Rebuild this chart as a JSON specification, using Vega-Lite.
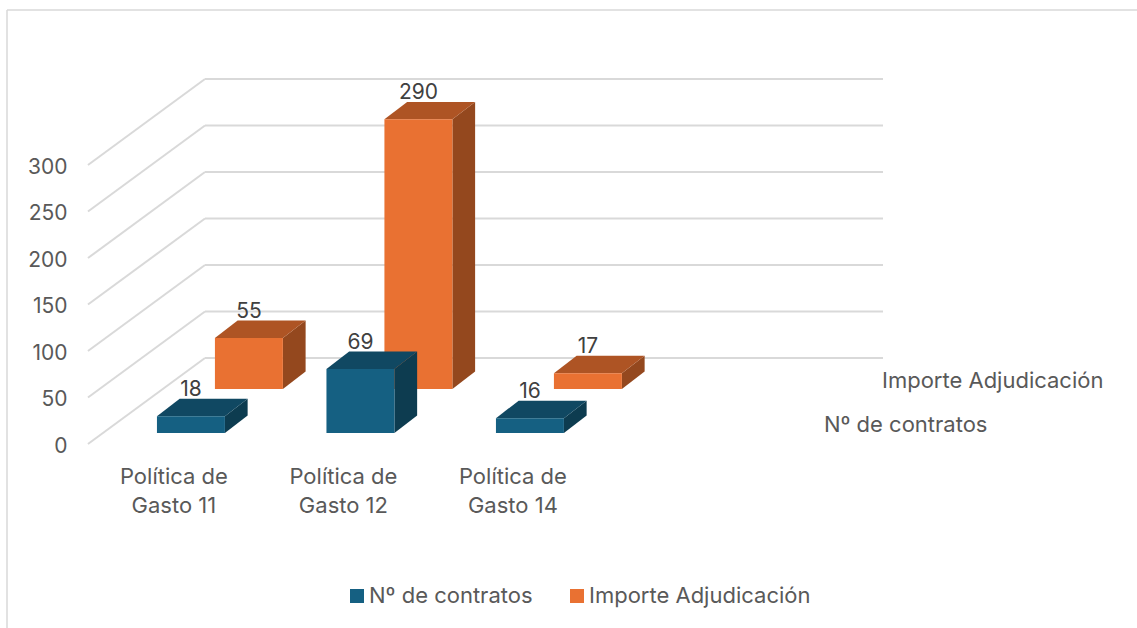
{"$schema":"https://vega.github.io/schema/vega-lite/v6.json","width":1130,"height":618,"padding":{"left":7,"top":10,"right":0,"bottom":0},"autosize":"none","background":"white","view":{"stroke":null,"fill":"white"},"config":{"font":"Inter"},
"data":{"values":[
{"politica":"Política de Gasto 11","serie":"Nº de contratos","valor":18},
{"politica":"Política de Gasto 12","serie":"Nº de contratos","valor":69},
{"politica":"Política de Gasto 14","serie":"Nº de contratos","valor":16},
{"politica":"Política de Gasto 11","serie":"Importe Adjudicación","valor":55},
{"politica":"Política de Gasto 12","serie":"Importe Adjudicación","valor":290},
{"politica":"Política de Gasto 14","serie":"Importe Adjudicación","valor":17}]},
"transform":[
{"calculate":"indexof(['Política de Gasto 11','Política de Gasto 12','Política de Gasto 14'],datum.politica)","as":"i"},
{"calculate":"datum.serie==='Importe Adjudicación'?1:0","as":"s"},
{"calculate":"0.926+datum.i+datum.s*0.342","as":"x0"},
{"calculate":"datum.x0+0.401","as":"x1"},
{"calculate":"datum.s?59.1:11.8","as":"base"},
{"calculate":"datum.base+datum.valor","as":"tope"},
{"calculate":"[0,1]","as":"ts"},
{"flatten":["ts"],"as":["t"]},
{"calculate":"datum.x1+datum.t*0.134","as":"sx"},
{"calculate":"datum.base+datum.t*18.8","as":"sy"},
{"calculate":"datum.tope+datum.t*18.8","as":"sy2"},
{"calculate":"datum.x0+datum.t*0.134","as":"tx"},
{"calculate":"datum.x0+0.2005","as":"cx"},
{"calculate":"datum.tope+28","as":"ly"},
{"calculate":"datum.x0+0.1","as":"catx"},
{"calculate":"replace(datum.politica,' Gasto','\\nGasto')","as":"lineas"},
{"calculate":"-35.3","as":"caty"},
{"calculate":"datum.s?5.2035:4.861","as":"depx"},
{"calculate":"datum.s?67.7:20.4","as":"depy"}
],
"layer":[
{"data":{"values":[{"v":0},{"v":50},{"v":100},{"v":150},{"v":200},{"v":250},{"v":300}]},
"transform":[{"calculate":"datum.v+92.5","as":"v2"}],
"mark":{"type":"rule","color":"#d9d9d9","strokeWidth":2},
"encoding":{"x":{"datum":0.519,"type":"quantitative","scale":{"domain":[0.0413,6.708]},"axis":null},"x2":{"datum":1.2094},
"y":{"field":"v","type":"quantitative","scale":{"domain":[-197.8,466.7]},"axis":{"values":[0,50,100,150,200,250,300],"domain":false,"ticks":false,"grid":false,"title":null,"labelPadding":-60,"labelOffset":2,"labelFontSize":21,"labelColor":"#595959","labelFont":"Inter"}},"y2":{"field":"v2"}}},
{"data":{"values":[{"v":0},{"v":50},{"v":100},{"v":150},{"v":200},{"v":250},{"v":300}]},
"transform":[{"calculate":"datum.v+92.5","as":"v2"}],
"mark":{"type":"rule","color":"#d9d9d9","strokeWidth":2},
"encoding":{"x":{"datum":1.2094,"type":"quantitative","scale":{"domain":[0.0413,6.708]},"axis":null},"x2":{"datum":5.2094},
"y":{"field":"v2","type":"quantitative","scale":{"domain":[-197.8,466.7]},"title":null}}},
{"data":{"values":[{"borde":"izquierdo"}]},"mark":{"type":"rule","color":"#d9d9d9","strokeWidth":1.5},
"encoding":{"x":{"datum":0.0413,"type":"quantitative","scale":{"domain":[0.0413,6.708]},"axis":null}}},
{"data":{"values":[{"borde":"superior"}]},"mark":{"type":"rule","color":"#d9d9d9","strokeWidth":1.5},
"encoding":{"y":{"datum":466.7,"type":"quantitative","scale":{"domain":[-197.8,466.7]},"title":null}}},
{"transform":[{"filter":"datum.s===1"}],"mark":{"type":"area","color":"#94481e","orient":"vertical"},
"encoding":{"detail":{"field":"politica"},"x":{"field":"sx","type":"quantitative","scale":{"domain":[0.0413,6.708]},"axis":null},"y":{"field":"sy","type":"quantitative","stack":null,"scale":{"domain":[-197.8,466.7]},"title":null},"y2":{"field":"sy2"}}},
{"transform":[{"filter":"datum.s===1"}],"mark":{"type":"area","color":"#ae5424","orient":"horizontal"},
"encoding":{"detail":{"field":"politica"},"y":{"field":"sy2","type":"quantitative","scale":{"domain":[-197.8,466.7]},"title":null},"x":{"field":"tx","type":"quantitative","stack":null,"scale":{"domain":[0.0413,6.708]},"axis":null},"x2":{"field":"sx"}}},
{"transform":[{"filter":"datum.s===1 && datum.t===0"}],"mark":{"type":"rect"},
"encoding":{"x":{"field":"x0","type":"quantitative","scale":{"domain":[0.0413,6.708]},"axis":null},"x2":{"field":"x1"},"y":{"field":"base","type":"quantitative","scale":{"domain":[-197.8,466.7]},"title":null},"y2":{"field":"tope"},
"color":{"field":"serie","type":"nominal","scale":{"domain":["Nº de contratos","Importe Adjudicación"],"range":["#156082","#e97132"]},"legend":{"title":null,"orient":"none","legendX":339,"legendY":575,"direction":"horizontal","symbolType":"square","symbolSize":196,"symbolStrokeWidth":0,"labelFontSize":22,"labelColor":"#595959","labelFont":"Inter","labelLimit":400,"columnPadding":33,"labelOffset":1}}}},
{"transform":[{"filter":"datum.s===0"}],"mark":{"type":"area","color":"#0d3c50","orient":"vertical"},
"encoding":{"detail":{"field":"politica"},"x":{"field":"sx","type":"quantitative","scale":{"domain":[0.0413,6.708]},"axis":null},"y":{"field":"sy","type":"quantitative","stack":null,"scale":{"domain":[-197.8,466.7]},"title":null},"y2":{"field":"sy2"}}},
{"transform":[{"filter":"datum.s===0"}],"mark":{"type":"area","color":"#104862","orient":"horizontal"},
"encoding":{"detail":{"field":"politica"},"y":{"field":"sy2","type":"quantitative","scale":{"domain":[-197.8,466.7]},"title":null},"x":{"field":"tx","type":"quantitative","stack":null,"scale":{"domain":[0.0413,6.708]},"axis":null},"x2":{"field":"sx"}}},
{"transform":[{"filter":"datum.s===0 && datum.t===0"}],"mark":{"type":"rect"},
"encoding":{"x":{"field":"x0","type":"quantitative","scale":{"domain":[0.0413,6.708]},"axis":null},"x2":{"field":"x1"},"y":{"field":"base","type":"quantitative","scale":{"domain":[-197.8,466.7]},"title":null},"y2":{"field":"tope"},
"color":{"field":"serie","type":"nominal","scale":{"domain":["Nº de contratos","Importe Adjudicación"],"range":["#156082","#e97132"]},"legend":{"title":null,"orient":"none","legendX":339,"legendY":575,"direction":"horizontal","symbolType":"square","symbolSize":196,"symbolStrokeWidth":0,"labelFontSize":22,"labelColor":"#595959","labelFont":"Inter","labelLimit":400,"columnPadding":33,"labelOffset":1}}}},
{"transform":[{"filter":"datum.t===0"}],"mark":{"type":"text","fontSize":21,"font":"Inter","color":"#404040","align":"center","baseline":"middle"},
"encoding":{"x":{"field":"cx","type":"quantitative","scale":{"domain":[0.0413,6.708]},"axis":null},"y":{"field":"ly","type":"quantitative","scale":{"domain":[-197.8,466.7]},"title":null},"text":{"field":"valor","type":"quantitative"}}},
{"transform":[{"filter":"datum.t===0 && datum.s===0"}],"mark":{"type":"text","fontSize":22,"font":"Inter","color":"#595959","align":"center","baseline":"middle","lineBreak":"\n","lineHeight":29},
"encoding":{"x":{"field":"catx","type":"quantitative","scale":{"domain":[0.0413,6.708]},"axis":null},"y":{"field":"caty","type":"quantitative","scale":{"domain":[-197.8,466.7]},"title":null},"text":{"field":"lineas"}}},
{"transform":[{"filter":"datum.t===0 && datum.i===2"}],"mark":{"type":"text","fontSize":22,"font":"Inter","color":"#595959","align":"left","baseline":"middle"},
"encoding":{"x":{"field":"depx","type":"quantitative","scale":{"domain":[0.0413,6.708]},"axis":null},"y":{"field":"depy","type":"quantitative","scale":{"domain":[-197.8,466.7]},"title":null},"text":{"field":"serie"}}}
]}
